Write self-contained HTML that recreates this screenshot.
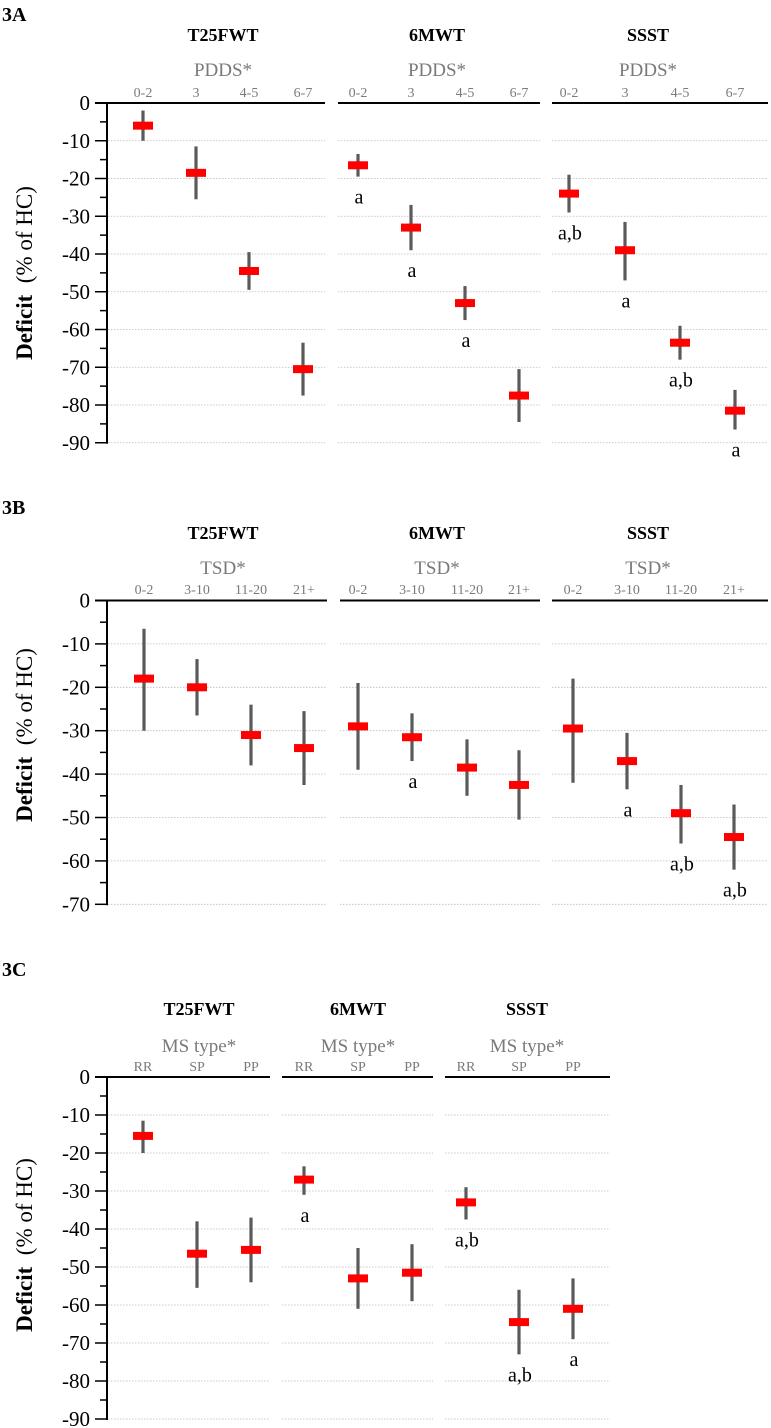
<!DOCTYPE html>
<html>
<head>
<meta charset="utf-8">
<style>
html,body{margin:0;padding:0;background:#fff;}
svg{display:block;font-family:"Liberation Serif","DejaVu Serif",serif;}
svg text{font-family:"Liberation Serif","DejaVu Serif",serif;}
</style>
</head>
<body>
<svg id="chart" width="771" height="1428" viewBox="0 0 771 1428"></svg>
<script>
// ---------- DATA (mean, upper end, lower end, significance label) ----------
const tests = ["T25FWT", "6MWT", "SSST"];
const catsA = ["0-2", "3", "4-5", "6-7"];
const catsB = ["0-2", "3-10", "11-20", "21+"];
const catsC = ["RR", "SP", "PP"];
const ticksA = [0,-10,-20,-30,-40,-50,-60,-70,-80,-90];
const ticksB = [0,-10,-20,-30,-40,-50,-60,-70];
const ticksC = [0,-10,-20,-30,-40,-50,-60,-70,-80,-90];

const meanA_T25 = [-6, -18.5, -44.5, -70.5];
const hiA_T25   = [-2, -11.5, -39.5, -63.5];
const loA_T25   = [-10, -25.5, -49.5, -77.5];
const sigA_T25  = ["", "", "", ""];
const meanA_6MW = [-16.5, -33, -53, -77.5];
const hiA_6MW   = [-13.5, -27, -48.5, -70.5];
const loA_6MW   = [-19.5, -39, -57.5, -84.5];
const sigA_6MW  = ["a", "a", "a", ""];
const meanA_SSS = [-24, -39, -63.5, -81.5];
const hiA_SSS   = [-19, -31.5, -59, -76];
const loA_SSS   = [-29, -47, -68, -86.5];
const sigA_SSS  = ["a,b", "a", "a,b", "a"];

const meanB_T25 = [-18, -20, -31, -34];
const hiB_T25   = [-6.5, -13.5, -24, -25.5];
const loB_T25   = [-30, -26.5, -38, -42.5];
const sigB_T25  = ["", "", "", ""];
const meanB_6MW = [-29, -31.5, -38.5, -42.5];
const hiB_6MW   = [-19, -26, -32, -34.5];
const loB_6MW   = [-39, -37, -45, -50.5];
const sigB_6MW  = ["", "a", "", ""];
const meanB_SSS = [-29.5, -37, -49, -54.5];
const hiB_SSS   = [-18, -30.5, -42.5, -47];
const loB_SSS   = [-42, -43.5, -56, -62];
const sigB_SSS  = ["", "a", "a,b", "a,b"];

const meanC_T25 = [-15.5, -46.5, -45.5];
const hiC_T25   = [-11.5, -38, -37];
const loC_T25   = [-20, -55.5, -54];
const sigC_T25  = ["", "", ""];
const meanC_6MW = [-27, -53, -51.5];
const hiC_6MW   = [-23.5, -45, -44];
const loC_6MW   = [-31, -61, -59];
const sigC_6MW  = ["a", "", ""];
const meanC_SSS = [-33, -64.5, -61];
const hiC_SSS   = [-29, -56, -53];
const loC_SSS   = [-37.5, -73, -69];
const sigC_SSS  = ["a,b", "a,b", "a"];

// ---------- LAYOUT ----------
const NS = "http://www.w3.org/2000/svg";
const svg = document.getElementById("chart");
const FF = '"Liberation Serif", "DejaVu Serif", serif';
function mk(tag, attrs, parent){
  const e = document.createElementNS(NS, tag);
  for (const k in attrs) e.setAttribute(k, attrs[k]);
  if (tag === "text") e.setAttribute("font-family", FF);
  (parent||svg).appendChild(e);
  return e;
}
const AX = 107;

const panels = [
  { id:"a", label:"3A", labelY:21, titleY:41, groupY:76, catY:97, y0:103, per10:37.75, ticks:ticksA, cats:catsA, group:"PDDS*", ylabY:273,
    segs:[[95,325],[338,540],[552,768]],
    xs:[[143,196,249,303],[358,411,465,519],[569,625,680,735]],
    titleX:[223,437,648],
    series:[[meanA_T25,hiA_T25,loA_T25,sigA_T25],[meanA_6MW,hiA_6MW,loA_6MW,sigA_6MW],[meanA_SSS,hiA_SSS,loA_SSS,sigA_SSS]] },
  { id:"b", label:"3B", labelY:514, titleY:539, groupY:574, catY:594, y0:600.5, per10:43.4, ticks:ticksB, cats:catsB, group:"TSD*", ylabY:735,
    segs:[[95,327],[340,540],[552,768]],
    xs:[[144,197,251,304],[358,412,467,519],[573,627,681,734]],
    titleX:[223,437,648],
    series:[[meanB_T25,hiB_T25,loB_T25,sigB_T25],[meanB_6MW,hiB_6MW,loB_6MW,sigB_6MW],[meanB_SSS,hiB_SSS,loB_SSS,sigB_SSS]] },
  { id:"c", label:"3C", labelY:976, titleY:1015, groupY:1052, catY:1071, y0:1077, per10:38.0, ticks:ticksC, cats:catsC, group:"MS type*", ylabY:1245,
    segs:[[95,270],[282,433],[445,610]],
    xs:[[143,197,251],[304,358,412],[466,519,573]],
    titleX:[199,358,527],
    series:[[meanC_T25,hiC_T25,loC_T25,sigC_T25],[meanC_6MW,hiC_6MW,loC_6MW,sigC_6MW],[meanC_SSS,hiC_SSS,loC_SSS,sigC_SSS]] }
];

panels.forEach(p => {
  const yScale = v => p.y0 - v/10*p.per10;
  const g = mk("g", {});
  
  

  const pl = mk("text", {x:2, y:p.labelY, "font-size":20, "font-weight":"bold", fill:"#000"}, g);
  pl.textContent = p.label;
  
  

  const minV = p.ticks[p.ticks.length-1];

  p.ticks.forEach(t => {
    if (t === 0) return;
    p.segs.forEach(s => {
      const gl = mk("line", {x1:Math.max(s[0],AX+1), x2:s[1], y1:yScale(t), y2:yScale(t), stroke:"#bbb", "stroke-width":0.8, "stroke-dasharray":"1.5,1.5"}, g);
      
      
    });
  });

  const ax = mk("line", {x1:AX, x2:AX, y1:yScale(0), y2:yScale(minV)+1, stroke:"#000", "stroke-width":2}, g);
  
  
  for (let v = 0; v >= minV; v -= 5) {
    const major = (v % 10 === 0);
    const tk = mk("line", {x1: major ? 95 : 100, x2:AX, y1:yScale(v), y2:yScale(v), stroke:"#000", "stroke-width":1.5}, g);
    
    
  }
  p.ticks.forEach(t => {
    const tl = mk("text", {x:90, y:yScale(t)+7, "font-size":21, "text-anchor":"end", fill:"#000"}, g);
    tl.textContent = t;
    
    
  });

  const yl = mk("text", {x:0, y:0, "font-size":23, "text-anchor":"middle", fill:"#000", transform:"translate(32," + p.ylabY + ") rotate(-90)"}, g);
  const b = mk("tspan", {"font-weight":"bold"}, yl); b.textContent = "Deficit";
  const r = mk("tspan", {}, yl); r.textContent = "\u00A0 (% of HC)";
  
  

  tests.forEach((tName, ti) => {
    const s = p.segs[ti];
    const top = mk("line", {x1:s[0], x2:s[1], y1:yScale(0), y2:yScale(0), stroke:"#000", "stroke-width":2}, g);
    
    

    const tt = mk("text", {x:p.titleX[ti], y:p.titleY, "font-size":18, "font-weight":"bold", "text-anchor":"middle", fill:"#000"}, g);
    tt.textContent = tName;
    
    

    const gt = mk("text", {x:p.titleX[ti], y:p.groupY, "font-size":19, "text-anchor":"middle", fill:"#7a7a7a"}, g);
    gt.textContent = p.group;
    
    

    p.cats.forEach((c, ci) => {
      const ct = mk("text", {x:p.xs[ti][ci], y:p.catY, "font-size":14, "text-anchor":"middle", fill:"#7a7a7a"}, g);
      ct.textContent = c;
      
      
    });

    const [mean, hi, lo, sig] = p.series[ti];
    mean.forEach((m, ci) => {
      const x = p.xs[ti][ci];
      const eb = mk("line", {x1:x, x2:x, y1:yScale(hi[ci]), y2:yScale(lo[ci]), stroke:"#5a5a5a", "stroke-width":3.2}, g);
      
      
      const mr = mk("rect", {x:x-10, y:yScale(m)-4, width:20, height:8, fill:"#ff0000"}, g);
      
      
      if (sig[ci]) {
        const st = mk("text", {x:x+1, y:yScale(lo[ci])+27, "font-size":20, "text-anchor":"middle", fill:"#000"}, g);
        st.textContent = sig[ci];
        
        
      }
    });
  });
});
</script>
</body>
</html>
